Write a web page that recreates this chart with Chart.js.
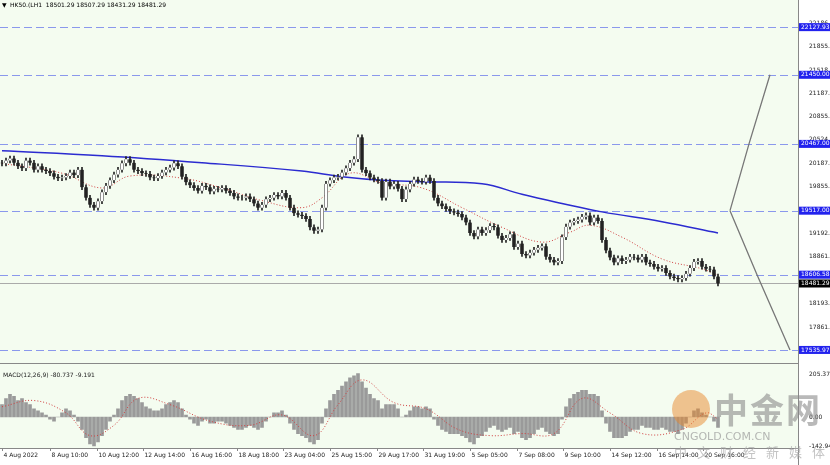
<!DOCTYPE html><html><head><meta charset="utf-8">
<script src="https://cdn.jsdelivr.net/npm/chart.js@4"></script>
<style>body{margin:0;background:#fff;width:830px;height:465px;overflow:hidden;font-family:"DejaVu Sans",sans-serif}
#c1w{position:absolute;left:0;top:0;width:830px;height:364px}#c2w{position:absolute;left:0;top:364px;width:830px;height:101px}
#wm{position:absolute;left:672px;top:382px;color:#9a9a9a;pointer-events:none;opacity:.7}
</style></head><body>
<div id="c1w"><canvas id="c1"></canvas></div><div id="c2w"><canvas id="c2"></canvas></div>
<div id="wm"><div style="position:absolute;left:0;top:8px;width:38px;height:38px;border-radius:50%;background:#e8862a;opacity:.7"></div>
<div style="position:absolute;left:42px;top:2px;font:bold 34px 'Noto Sans CJK SC';color:#8a8a8a;letter-spacing:2px;white-space:nowrap;opacity:.85">中金网</div>
<div style="position:absolute;left:2px;top:48px;font:11px 'DejaVu Sans';white-space:nowrap;color:#999">CNGOLD.COM.CN</div>
<div style="position:absolute;left:2px;top:60px;font:13px 'Noto Sans CJK SC';white-space:nowrap;letter-spacing:10px;color:#aaa">中文财经新媒体</div></div>
<script>
const title="HK50.(LH1  18501.29 18507.29 18431.29 18481.29";
const closes=[20190,20230,20260,20200,20150,20120,20230,20200,20100,20150,
20100,20080,20050,20000,19980,19990,20010,20060,20020,20100,
19850,19700,19600,19560,19650,19780,19870,19950,20030,20100,
20190,20250,20200,20100,20080,20050,20040,19990,19980,20010,
20060,20100,20130,20190,20150,20000,19920,19880,19840,19800,
19870,19850,19790,19830,19820,19840,19800,19770,19720,19700,
19700,19720,19680,19620,19560,19600,19680,19700,19740,19720,
19770,19700,19560,19480,19460,19440,19400,19280,19230,19250,
19560,19900,19950,19990,20000,20060,20120,20200,20250,20560,
20100,20050,19990,19960,19940,19700,19930,19860,19900,19830,
19680,19820,19900,19960,19940,19930,19990,19940,19700,19620,
19580,19540,19510,19490,19470,19420,19350,19200,19150,19250,
19200,19240,19300,19280,19160,19100,19130,19180,19000,19050,
18900,18880,18920,18960,18990,19010,18860,18820,18780,18800,
19140,19290,19350,19370,19390,19430,19450,19350,19420,19370,
19100,18950,18850,18780,18840,18800,18820,18860,18850,18820,
18860,18780,18760,18720,18690,18700,18630,18580,18560,18540,
18560,18620,18700,18790,18800,18720,18690,18680,18580,18481];
const firstOpen=20200;
const maSlowX=[0,25,50,75,85,95,105,120,130,140,150,165,179];
const maSlowY=[20370,20300,20200,20080,20000,19950,19930,19900,19750,19620,19500,19360,19200];
const maFastX=[0,15,25,32,45,55,65,75,80,87,95,105,115,125,135,142,147,155,165,175,179];
const maFastY=[20190,20050,19840,20010,19980,19840,19660,19560,19700,20050,19910,19840,19560,19280,19070,19210,19310,19140,18830,18690,18600];
const hLinesBlue=[22127.93,21450.00,20467.00,19517.00,18606.58,17535.97];
const lastPrice=18481.29;
const yTicks=[22186.60,21855.10,21518.50,21187.00,20855.50,20524.00,20187.40,19855.90,19192.90,18861.40,18193.30,17861.80];
const projUpX=[182,186.75,192];const projUpY=[19517,20467,21450];
const projDnX=[182,188.75,197];const projDnY=[19517,18606.58,17535.97];
const macdHist=[60,90,110,100,80,90,70,60,40,30,20,10,-10,-20,0,20,40,30,10,-20,
-60,-100,-130,-140,-120,-90,-60,-20,10,40,80,100,110,100,90,70,50,40,30,30,
40,60,70,80,70,40,10,-10,-30,-40,-20,-10,-30,-30,-20,-20,-30,-40,-50,-60,
-60,-50,-40,-50,-60,-50,-20,0,20,20,30,10,-30,-60,-80,-90,-100,-120,-130,-110,
-30,40,80,110,130,150,170,190,200,210,170,140,110,90,80,40,60,60,60,40,
0,10,30,50,50,40,50,40,-10,-40,-60,-70,-80,-80,-80,-90,-100,-120,-130,-100,
-90,-70,-50,-40,-60,-70,-60,-50,-80,-70,-100,-110,-100,-80,-60,-50,-70,-80,-90,-80,
-10,50,90,110,120,130,130,110,110,100,30,-30,-70,-100,-100,-100,-90,-70,-60,-60,
-40,-50,-50,-60,-60,-50,-60,-70,-70,-80,-60,-30,0,30,40,20,10,0,-20,-50];
const sigX=[0,8,16,22,28,34,42,52,62,70,78,84,90,98,106,114,122,130,138,145,152,160,170,176,179];
const sigY=[50,80,20,-90,-40,90,60,-20,-40,10,-90,60,180,70,40,-60,-90,-80,-80,90,20,-80,-60,20,-10];
const macdLabel="MACD(12,26,9) -80.737 -9.191";
const dateLabels=["4 Aug 2022","8 Aug 10:00","10 Aug 12:00","12 Aug 14:00","16 Aug 16:00","18 Aug 18:00","23 Aug 04:00","25 Aug 15:00","29 Aug 17:00","31 Aug 19:00","5 Sep 05:00","7 Sep 08:00","9 Sep 10:00","14 Sep 12:00","16 Sep 14:00","20 Sep 16:00"];
const datePos=[0,12,23.75,35.25,47,58.75,70.25,82,93.75,105.25,117,128.75,140.25,152,163.75,175.25];

const opens=closes.map((c,i)=>i?closes[i-1]:firstOpen);
const body=closes.map((c,i)=>({x:i,y:[opens[i],c]}));
const wick=closes.map((c,i)=>({x:i,y:[Math.min(opens[i],c)-35,Math.max(opens[i],c)+35]}));
const pts=(X,Y)=>X.map((x,i)=>({x,y:Y[i]}));
const BG='#f4fcf0', AX=830-32;
Chart.defaults.animation=false;Chart.defaults.font.family="DejaVu Sans";
const bgPlug={id:'bg',beforeDraw(c){const g=c.ctx;g.save();g.fillStyle=BG;g.fillRect(0,0,AX,c.height);g.fillStyle='#fff';g.fillRect(AX,0,32,c.height);g.restore();},
 afterDraw(c){const g=c.ctx;g.save();g.strokeStyle='#888';g.lineWidth=1;g.beginPath();g.moveTo(AX+.5,0);g.lineTo(AX+.5,c.height);g.stroke();g.restore();}};
const xs=()=>({type:'linear',min:-0.5,max:199,offset:false,display:false,bounds:'ticks'});
new Chart(c1,{data:{datasets:[
 {type:'line',data:pts(maSlowX,maSlowY),borderColor:'#2b2bd0',borderWidth:1.5,pointRadius:0,tension:0.4,order:3},
 {type:'line',data:pts(maFastX,maFastY),borderColor:'#d04040',borderWidth:1,borderDash:[1,2],pointRadius:0,tension:0.4,order:4},
 {type:'bar',data:wick,backgroundColor:'#222',barThickness:1,grouped:false,order:2},
 {type:'bar',data:body,backgroundColor:closes.map((c,i)=>c>=opens[i]?'#fff':'#222'),borderColor:'#222',borderWidth:{top:0,bottom:0,left:0.5,right:0.5},borderSkipped:false,barThickness:3,grouped:false,order:1},
 {type:'line',data:pts(projUpX,projUpY),borderColor:'#777',borderWidth:1.3,pointRadius:0,order:0},
 {type:'line',data:pts(projDnX,projDnY),borderColor:'#777',borderWidth:1.3,pointRadius:0,order:0}
]},options:{responsive:true,maintainAspectRatio:false,layout:{padding:{top:3,bottom:1,left:0}},plugins:{legend:{display:false},tooltip:{enabled:false}},
 scales:{x:xs(),y:{position:'right',min:17430,max:22420,grid:{display:false},border:{display:false},
  afterBuildTicks(s){s.ticks=yTicks.map(v=>({value:v}))},afterFit(s){s.width=32},
  ticks:{font:{size:6},color:'#222',padding:3,callback:v=>v.toFixed(2)}}}},
 plugins:[bgPlug,{id:'lines',beforeDatasetsDraw(c){const g=c.ctx,y=c.scales.y;g.save();g.lineWidth=1;
   g.strokeStyle='#8a98ec';g.setLineDash([8,4]);hLinesBlue.forEach(v=>{const p=Math.round(y.getPixelForValue(v))+.5;g.beginPath();g.moveTo(0,p);g.lineTo(AX,p);g.stroke();});
   g.setLineDash([]);g.strokeStyle='#aaa';const p=Math.round(y.getPixelForValue(lastPrice))+.5;g.beginPath();g.moveTo(0,p);g.lineTo(AX,p);g.stroke();g.restore();},
  afterDraw(c){const g=c.ctx,y=c.scales.y;g.save();g.font='6px DejaVu Sans';g.textBaseline='middle';
   const box=(v,bg)=>{const p=y.getPixelForValue(v);g.fillStyle=bg;g.fillRect(AX+1,p-4,31,8);g.fillStyle='#fff';g.fillText(v.toFixed(2),AX+3,p);};
   hLinesBlue.forEach(v=>box(v,'#2222ee'));box(lastPrice,'#000');
   g.fillStyle='#000';g.fillText('▼',2,5);g.fillText(title,10,5);
   g.strokeStyle='#888';g.beginPath();g.moveTo(0,c.height-.5);g.lineTo(AX,c.height-.5);g.stroke();g.restore();}}]});
new Chart(c2,{data:{datasets:[
 {type:'bar',data:macdHist.map((v,i)=>({x:i,y:v})),backgroundColor:'#9a9a9a',barThickness:3,order:2},
 {type:'line',data:pts(sigX,sigY),borderColor:'#d04040',borderWidth:1,borderDash:[1,2],pointRadius:0,tension:0.4,order:1}
]},options:{responsive:true,maintainAspectRatio:false,layout:{padding:{top:4,bottom:17,left:0}},plugins:{legend:{display:false},tooltip:{enabled:false}},
 scales:{x:xs(),y:{position:'right',min:-150,max:225,grid:{display:false},border:{display:false},
  afterBuildTicks(s){s.ticks=[205.378,0,-142.945].map(v=>({value:v}))},afterFit(s){s.width=32},
  ticks:{font:{size:6},color:'#222',padding:3,callback:v=>v===0?'0.00':String(v)}}}},
 plugins:[bgPlug,{id:'dates',afterDraw(c){const g=c.ctx,x=c.scales.x,a=c.chartArea;g.save();g.fillStyle='#fff';g.fillRect(0,a.bottom,AX,c.height-a.bottom);
   g.strokeStyle='#888';g.beginPath();g.moveTo(0,a.bottom+.5);g.lineTo(AX,a.bottom+.5);g.stroke();
   g.fillStyle='#222';g.font='6px DejaVu Sans';g.textBaseline='top';
   datePos.forEach((p,i)=>{const px=Math.round(x.getPixelForValue(p))+.5;g.beginPath();g.moveTo(px,a.bottom);g.lineTo(px,a.bottom+3);g.stroke();g.fillText(dateLabels[i],px+1,a.bottom+4);});
   g.fillText(macdLabel,3,a.top+2);g.restore();}}]});
</script></body></html>
